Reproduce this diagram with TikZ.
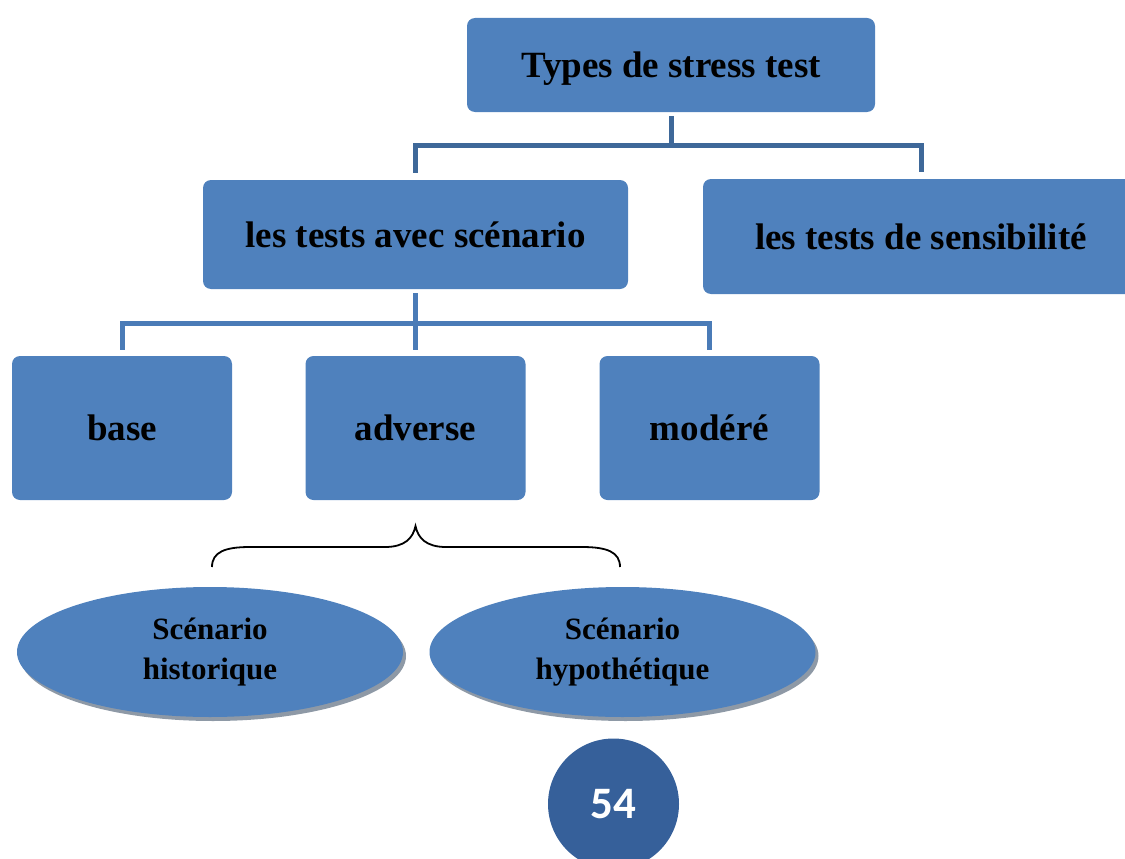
\documentclass[tikz,border=0pt]{standalone}
\usepackage{fontspec}
\setmainfont{Liberation Serif}
\newfontfamily\digitfont{Carlito}
\usetikzlibrary{shapes.geometric,shadows}
\definecolor{boxblue}{HTML}{4F81BD}
\definecolor{linkdark}{HTML}{3E6899}
\definecolor{linklight}{HTML}{4A7BB7}
\definecolor{pageblue}{HTML}{36609A}
\definecolor{shadowgray}{HTML}{8E99A6}
\begin{document}
\begin{tikzpicture}[x=1pt,y=-1pt,
  box/.style={fill=boxblue, rounded corners=8pt, inner sep=0pt, text=black,
    font=\bfseries\fontsize{37}{44}\selectfont},
  oval/.style={ellipse, fill=boxblue, minimum width=386pt, minimum height=130pt,
    inner sep=0pt, align=center, text=black,
    font=\bfseries\fontsize{31}{40}\selectfont,
    drop shadow={shadow xshift=3pt, shadow yshift=-4pt, fill=shadowgray, opacity=1}},
  link/.style={line width=5pt, line join=miter},
  brace/.style={line width=1.8pt, black},
]
\useasboundingbox (0,0) rectangle (1125,859);
\clip (0,0) rectangle (1125,859);

% top level
\node[box, minimum width=408pt, minimum height=94pt, text depth=0pt] (root) at (671,65) {Types de stress test};

% second level
\node[box, minimum width=425pt, minimum height=109pt] (scen) at (415.5,234.5) {les tests avec scénario};
\node[box, minimum width=436pt, minimum height=115pt] (sens) at (921,236.5) {les tests de sensibilité};

% scenario kinds
\node[box, minimum width=220pt, minimum height=144pt] (base) at (122,428) {base};
\node[box, minimum width=220pt, minimum height=144pt] (adv) at (415.5,428) {adverse};
\node[box, minimum width=220pt, minimum height=144pt] (mod) at (709.5,428) {modéré};

% connectors, first level
\coordinate (j1) at (671,145.5);
\draw[link, linkdark] ([yshift=-4pt]root.south) -- (j1);
\draw[link, linkdark] ([yshift=7pt]scen.north) -- (scen.north |- j1) -- (sens.north |- j1) -- ([yshift=7pt]sens.north);

% connectors, second level
\coordinate (j2) at (415.5,323);
\draw[link, linklight] ([yshift=-4pt]scen.south) -- ([yshift=6pt]adv.north);
\draw[link, linklight] ([yshift=6pt]base.north) -- (base.north |- j2) -- (mod.north |- j2) -- ([yshift=6pt]mod.north);

% brace below the adverse box
\coordinate (bl) at (212,567);
\coordinate (br) at (620,567);
\coordinate (btip) at (415.5,526);
\draw[brace] (bl) .. controls (212,552) and (225,547) .. (250,547) -- (385,547)
  .. controls (405,547) and (413,538) .. (btip)
  .. controls (418,538) and (426,547) .. (446,547) -- (582,547)
  .. controls (607,547) and (620,552) .. (br);

% historical and hypothetical scenarios
\node[oval] (hist) at (210,652) {Scénario\\historique};
\node[oval] (hypo) at (622.5,652) {Scénario\\hypothétique};

% page number
\node[circle, fill=pageblue, minimum size=131pt, inner sep=0pt, text=white,
  font=\digitfont\bfseries\fontsize{45}{54}\selectfont] (pg) at (613.5,804) {54};
\end{tikzpicture}
\end{document}
